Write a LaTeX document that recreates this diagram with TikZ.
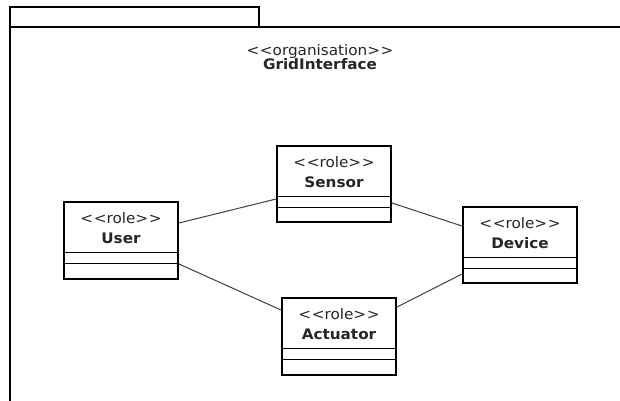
\documentclass[tikz,border=0pt]{standalone}
\usepackage{fontspec}
\setmainfont{DejaVu Sans}[FakeStretch=1.05, Ligatures=TeXOff]
\usetikzlibrary{calc}
\newcommand\umlst[1]{<\kern0.6pt<#1>\kern0.6pt>}
\begin{document}
\begin{tikzpicture}[x=1pt,y=-1pt,
  rolebox/.style={draw, line width=2pt, anchor=north west, minimum width=114pt, inner sep=0pt},
  stereo/.style={anchor=base, inner sep=0pt, text=black!85, font=\fontsize{14.5}{16}\selectfont},
  bname/.style={anchor=base, inner sep=0pt, text=black!85, font=\fontsize{14.5}{16}\selectfont\bfseries},
  comp/.style={line width=1pt},
  assoc/.style={line width=1pt, draw=black!75},
  frameline/.style={line width=2pt, line join=miter}]
\fill[white] (0,0) rectangle (620,400);
\useasboundingbox (0,0) rectangle (620,400);
% package frame
\coordinate (fbl) at (10,410);
\coordinate (ftl) at (10,7);
\coordinate (ftr) at (259,7);
\coordinate (fbr) at (259,27);
\coordinate (fl) at (10,27);
\coordinate (fr) at (630,27);
\draw[frameline] (fbl) -- (ftl) -- (ftr) -- (fbr);
\draw[frameline] (fl) -- (fr);
\node[stereo] (orgst) at (320,55) {\umlst{organisation}};
\node[bname] (orgname) at (320,69.5) {GridInterface};
% role boxes
\node[rolebox, minimum height=77pt] (user) at (63,201) {};
\node[rolebox, minimum height=76pt] (sensor) at (276,145) {};
\node[rolebox, minimum height=77pt] (actuator) at (281,297) {};
\node[rolebox, minimum height=76pt] (device) at (462,206) {};
\foreach \b/\n in {user/User, sensor/Sensor, actuator/Actuator, device/Device}{
  \node[stereo] (\b-st) at ($(\b.north)+(0,22)$) {\umlst{role}};
  \node[bname] (\b-name) at ($(\b.north)+(0,42)$) {\n};
  \draw[comp] ([yshift=-51.5pt]\b.north west) -- ([yshift=-51.5pt]\b.north east);
  \draw[comp] ([yshift=-62.5pt]\b.north west) -- ([yshift=-62.5pt]\b.north east);
}
% associations
\draw[assoc] ([yshift=-22pt]user.north east) -- ([yshift=-54pt]sensor.north west);
\draw[assoc] ([yshift=-63pt]user.north east) -- ([yshift=-13pt]actuator.north west);
\draw[assoc] ([yshift=-58pt]sensor.north east) -- ([yshift=-20pt]device.north west);
\draw[assoc] ([yshift=-10pt]actuator.north east) -- ([yshift=-68pt]device.north west);
\end{tikzpicture}
\end{document}
